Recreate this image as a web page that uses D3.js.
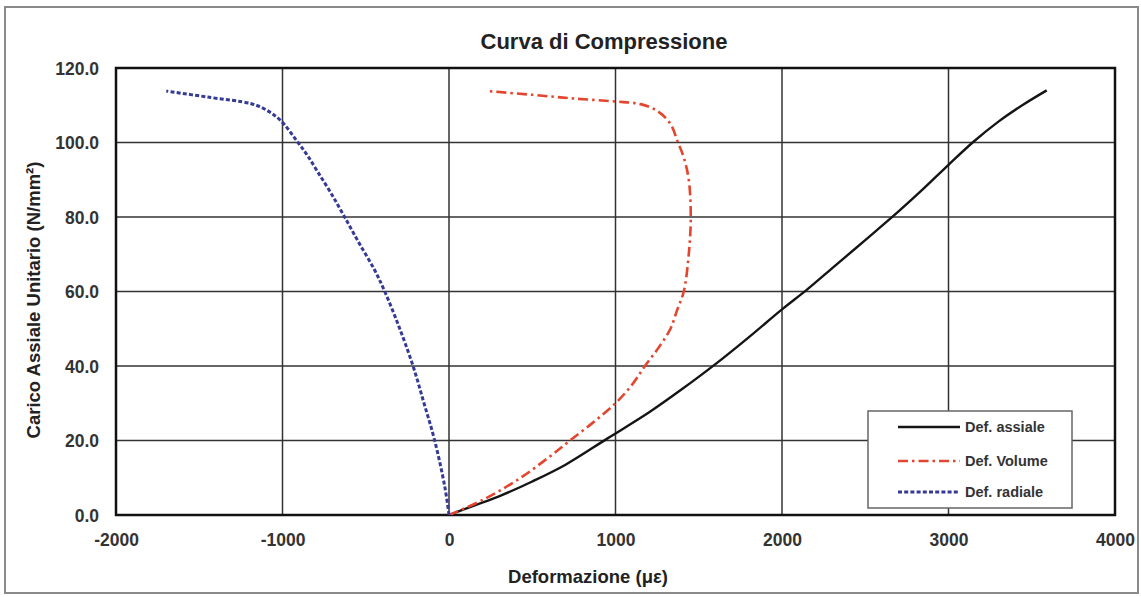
<!DOCTYPE html>
<html>
<head>
<meta charset="utf-8">
<script src="https://cdn.jsdelivr.net/npm/d3@7"></script>
<style>
  html, body { margin: 0; padding: 0; background: #fff; }
  svg { display: block; }
  text { font-family: "Liberation Sans", Arial, sans-serif; }
</style>
</head>
<body>
<svg id="chart" width="1141" height="597"></svg>
<script>
// ---- Data ----
const chartTitle = "Curva di Compressione";
const xLabel = "Deformazione (\u03bc\u03b5)";
const yLabel = "Carico Assiale Unitario (N/mm\u00b2)";
const xTicks = [-2000, -1000, 0, 1000, 2000, 3000, 4000];
const yTicks = [0, 20, 40, 60, 80, 100, 120];
const seriesNames = ["Def. assiale", "Def. Volume", "Def. radiale"];

const axialStrain = [0, 150, 300, 500, 700, 950, 1200, 1400, 1600, 1800, 2000, 2150, 2300, 2500, 2700, 2850, 3000, 3150, 3300, 3450, 3590];
const axialLoad   = [0, 2.5, 5, 9, 13.5, 20.5, 27.5, 33.8, 40.5, 47.7, 55.2, 60.5, 66.2, 73.8, 81.5, 87.6, 94, 100.2, 105.6, 110.2, 114];

const volumeStrain = [0, 200, 414, 600, 727, 870, 1000, 1100, 1177, 1260, 1330, 1370, 1410, 1440, 1452, 1440, 1410, 1375, 1330, 1250, 1150, 1000, 750, 500, 234];
const volumeLoad   = [0, 4, 9.5, 15.5, 20, 25, 30, 35, 40, 45, 50, 55, 60, 70, 80, 90, 96, 100, 105, 108.5, 110.3, 111, 111.8, 112.8, 113.8];

const radialStrain = [0, -25, -86, -150, -216, -300, -386, -446, -540, -627, -710, -787, -850, -907, -1011, -1100, -1187, -1450, -1698];
const radialLoad   = [0, 7.5, 20, 30, 40, 50.5, 60, 65.7, 73, 80, 86.5, 92, 96.5, 100, 105.9, 108.8, 110.4, 112.2, 113.8];

// ---- Layout ----
const svg = d3.select("#chart");
const plot = { left: 116, right: 1115, top: 68, bottom: 515 };

const x = d3.scaleLinear().domain([-2000, 4000]).range([plot.left, plot.right]);
const y = d3.scaleLinear().domain([0, 120]).range([plot.bottom, plot.top]);

// outer frame
svg.append("rect")
  .attr("x", 5).attr("y", 7).attr("width", 1133).attr("height", 586)
  .attr("fill", "#fff").attr("stroke", "#8a8a8a").attr("stroke-width", 2);

// title
svg.append("text")
  .attr("x", 604).attr("y", 49)
  .attr("text-anchor", "middle")
  .attr("font-size", 22).attr("font-weight", "bold").attr("fill", "#222")
  .text(chartTitle);

// grid lines
const grid = svg.append("g");
grid.selectAll("line.vx").data(xTicks).enter().append("line")
  .attr("x1", d => x(d)).attr("x2", d => x(d))
  .attr("y1", plot.top).attr("y2", plot.bottom)
  .attr("stroke", "#333").attr("stroke-width", 1.5);
grid.selectAll("line.hy").data(yTicks).enter().append("line")
  .attr("y1", d => y(d)).attr("y2", d => y(d))
  .attr("x1", plot.left).attr("x2", plot.right)
  .attr("stroke", "#333").attr("stroke-width", 1.5);

// axes (labels only)
const xAxis = d3.axisBottom(x).tickValues(xTicks).tickSize(0).tickPadding(0).tickFormat(d => String(d));
const gx = svg.append("g").attr("transform", `translate(0,${plot.bottom})`).call(xAxis);
gx.select(".domain").remove();
gx.selectAll("text").attr("dy", null).attr("y", 31)
  .attr("font-size", 17.5).attr("font-weight", "bold").attr("fill", "#333")
  .style("font-family", '"Liberation Sans", Arial, sans-serif');

const yAxis = d3.axisLeft(y).tickValues(yTicks).tickSize(0).tickPadding(0).tickFormat(d => d.toFixed(1));
const gy = svg.append("g").attr("transform", `translate(${plot.left},0)`).call(yAxis);
gy.select(".domain").remove();
gy.selectAll("text").attr("x", -17).attr("dy", "0.36em")
  .attr("font-size", 17.5).attr("font-weight", "bold").attr("fill", "#333")
  .style("font-family", '"Liberation Sans", Arial, sans-serif');

// plot frame
svg.append("rect")
  .attr("x", plot.left).attr("y", plot.top)
  .attr("width", plot.right - plot.left).attr("height", plot.bottom - plot.top)
  .attr("fill", "none").attr("stroke", "#111").attr("stroke-width", 2.5);

// axis titles
svg.append("text")
  .attr("x", 588).attr("y", 583)
  .attr("text-anchor", "middle")
  .attr("font-size", 18.5).attr("font-weight", "bold").attr("fill", "#222")
  .text(xLabel);
svg.append("text")
  .attr("transform", "translate(40,300) rotate(-90)")
  .attr("text-anchor", "middle")
  .attr("font-size", 18.5).attr("font-weight", "bold").attr("fill", "#222")
  .text(yLabel);

// series
const line = d3.line().x(d => x(d[0])).y(d => y(d[1])).curve(d3.curveCatmullRom.alpha(0.5));
const series = [
  { name: seriesNames[0], pts: d3.zip(axialStrain, axialLoad), color: "#151515", dash: null, w: 2.4 },
  { name: seriesNames[1], pts: d3.zip(volumeStrain, volumeLoad), color: "#e4452e", dash: "10,4,2.5,4", w: 2.6 },
  { name: seriesNames[2], pts: d3.zip(radialStrain, radialLoad), color: "#353a95", dash: "4,2.2", w: 3 }
];
const clipId = "plotclip";
svg.append("clipPath").attr("id", clipId).append("rect")
  .attr("x", plot.left).attr("y", plot.top)
  .attr("width", plot.right - plot.left).attr("height", plot.bottom - plot.top);
const gs = svg.append("g").attr("clip-path", `url(#${clipId})`);
series.forEach(s => {
  gs.append("path")
    .attr("d", line(s.pts))
    .attr("fill", "none")
    .attr("stroke", s.color)
    .attr("stroke-width", s.w)
    .attr("stroke-dasharray", s.dash)
    .attr("stroke-linejoin", "round");
});

// legend
const lg = svg.append("g");
lg.append("rect")
  .attr("x", 868).attr("y", 411).attr("width", 204).attr("height", 97)
  .attr("fill", "#fff").attr("stroke", "#666").attr("stroke-width", 1.5);
const rowY = [427, 461, 492];
series.forEach((s, i) => {
  lg.append("line")
    .attr("x1", 898).attr("x2", 960).attr("y1", rowY[i]).attr("y2", rowY[i])
    .attr("stroke", s.color).attr("stroke-width", s.w)
    .attr("stroke-dasharray", s.dash);
  lg.append("text")
    .attr("x", 965).attr("y", rowY[i]).attr("dy", "0.35em")
    .attr("font-size", 14.5).attr("font-weight", "bold").attr("fill", "#333")
    .text(s.name);
});
</script>
</body>
</html>
